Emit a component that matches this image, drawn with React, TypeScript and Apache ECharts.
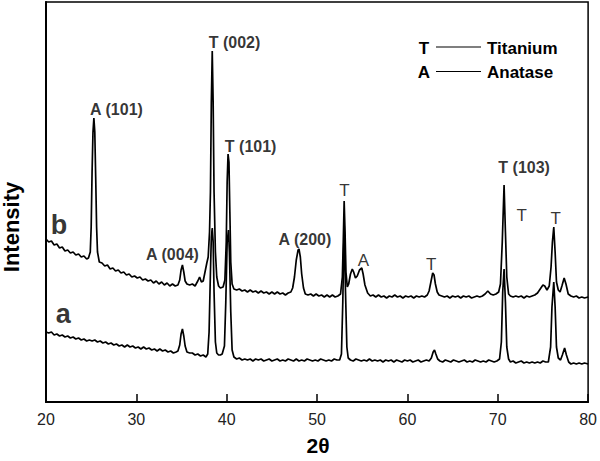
import React, { useEffect, useRef } from "react";
import * as echarts from "echarts";

// Curve b (upper pattern): [2θ, intensity]
const curveB: [number, number][] = [
  [20.0, 163], [20.3, 160], [20.6, 161], [20.9, 157], [21.2, 158], [21.5, 154], [21.8, 155],
  [22.1, 151], [22.4, 152], [22.7, 149], [23.0, 150], [23.3, 147], [23.6, 148], [23.9, 145],
  [24.2, 146], [24.5, 143], [24.7, 144], [24.9, 150], [25.0, 175], [25.1, 230], [25.2, 270],
  [25.3, 284], [25.4, 270], [25.5, 225], [25.6, 175], [25.7, 150], [25.9, 140], [26.2, 139],
  [26.5, 136], [26.8, 137], [27.1, 133], [27.4, 134], [27.7, 131], [28.0, 132], [28.3, 129],
  [28.6, 130], [28.9, 127], [29.2, 128], [29.5, 125], [29.8, 126], [30.1, 124], [30.4, 125],
  [30.7, 122], [31.0, 123], [31.3, 121], [31.6, 122], [31.9, 119], [32.2, 121], [32.5, 118],
  [32.8, 120], [33.1, 117], [33.4, 119], [33.7, 116], [34.0, 118], [34.3, 116], [34.6, 117],
  [34.8, 122], [34.95, 132], [35.1, 137], [35.25, 130], [35.4, 121], [35.6, 118], [35.9, 117],
  [36.2, 118], [36.5, 116], [36.8, 121], [37.0, 125], [37.2, 120], [37.4, 121], [37.6, 130],
  [37.8, 139], [37.95, 145], [38.1, 170], [38.2, 210], [38.3, 300], [38.4, 351], [38.5, 300],
  [38.6, 210], [38.75, 150], [38.9, 125], [39.1, 116], [39.3, 114], [39.6, 115], [39.8, 122],
  [39.95, 160], [40.05, 220], [40.15, 248], [40.25, 240], [40.35, 190], [40.45, 140], [40.6, 118],
  [40.8, 113], [41.1, 112], [41.4, 113], [41.7, 111], [42.0, 112], [42.3, 110], [42.6, 112],
  [42.9, 110], [43.2, 111], [43.5, 109], [43.8, 111], [44.1, 109], [44.4, 110], [44.7, 108],
  [45.0, 110], [45.3, 108], [45.6, 110], [45.9, 108], [46.2, 109], [46.5, 107], [46.8, 109],
  [47.1, 110], [47.3, 114], [47.5, 125], [47.7, 142], [47.9, 152], [48.0, 153], [48.15, 145],
  [48.3, 128], [48.5, 114], [48.7, 108], [49.0, 107], [49.3, 108], [49.6, 106], [49.9, 108],
  [50.2, 106], [50.5, 107], [50.8, 105], [51.1, 107], [51.4, 105], [51.7, 107], [52.0, 105],
  [52.3, 106], [52.6, 108], [52.8, 125], [52.9, 160], [53.0, 201], [53.1, 170], [53.2, 130],
  [53.35, 115], [53.5, 118], [53.7, 128], [53.9, 133], [54.05, 130], [54.25, 124], [54.45, 126],
  [54.7, 132], [54.95, 134], [55.1, 128], [55.3, 117], [55.6, 109], [55.9, 106], [56.2, 107],
  [56.5, 105], [56.8, 107], [57.1, 105], [57.4, 106], [57.7, 104], [58.0, 106], [58.3, 105],
  [58.6, 107], [58.9, 105], [59.2, 106], [59.5, 104], [59.8, 106], [60.1, 105], [60.4, 106],
  [60.7, 104], [61.0, 106], [61.3, 105], [61.6, 106], [61.9, 105], [62.2, 107], [62.4, 111],
  [62.6, 120], [62.8, 129], [62.95, 127], [63.1, 118], [63.3, 110], [63.5, 107], [63.8, 106],
  [64.1, 105], [64.4, 106], [64.7, 104], [65.0, 106], [65.3, 105], [65.6, 106], [65.9, 104],
  [66.2, 106], [66.5, 105], [66.8, 106], [67.1, 104], [67.4, 105], [67.7, 106], [68.0, 105],
  [68.3, 106], [68.6, 108], [68.9, 111], [69.2, 108], [69.5, 107], [69.8, 108], [70.1, 110],
  [70.3, 118], [70.5, 160], [70.7, 217], [70.85, 170], [71.0, 125], [71.2, 108], [71.4, 106],
  [71.7, 105], [72.0, 106], [72.3, 105], [72.6, 106], [72.9, 104], [73.2, 106], [73.5, 105],
  [73.8, 106], [74.1, 107], [74.4, 109], [74.7, 113], [75.0, 117], [75.2, 116], [75.45, 112],
  [75.7, 116], [75.9, 135], [76.05, 160], [76.2, 175], [76.35, 150], [76.5, 120], [76.7, 112],
  [76.9, 110], [77.1, 116], [77.35, 124], [77.55, 118], [77.8, 108], [78.1, 106], [78.4, 105],
  [78.7, 106], [79.0, 104], [79.3, 105], [79.6, 104], [80.0, 105],
];

// Curve a (lower pattern): [2θ, intensity]
const curveA: [number, number][] = [
  [20.0, 70], [20.3, 69], [20.6, 70], [20.9, 67], [21.2, 68], [21.5, 66], [21.8, 67], [22.1, 65],
  [22.4, 66], [22.7, 64], [23.0, 65], [23.3, 63], [23.6, 64], [23.9, 62], [24.2, 63], [24.5, 61],
  [24.8, 62], [25.1, 61], [25.4, 62], [25.7, 60], [26.0, 61], [26.3, 59], [26.6, 60], [26.9, 58],
  [27.2, 59], [27.5, 57], [27.8, 58], [28.1, 56], [28.4, 57], [28.7, 55], [29.0, 57], [29.3, 55],
  [29.6, 56], [29.9, 54], [30.2, 55], [30.5, 53], [30.8, 55], [31.1, 53], [31.4, 54], [31.7, 52],
  [32.0, 53], [32.3, 51], [32.6, 53], [32.9, 51], [33.2, 52], [33.5, 50], [33.8, 51], [34.1, 49],
  [34.4, 50], [34.6, 51], [34.8, 57], [34.95, 68], [35.1, 73], [35.25, 66], [35.4, 56], [35.6, 50],
  [35.9, 49], [36.2, 49], [36.5, 47], [36.8, 48], [37.1, 46], [37.4, 47], [37.7, 45], [37.9, 48],
  [38.05, 70], [38.2, 130], [38.3, 165], [38.4, 174], [38.5, 160], [38.6, 110], [38.75, 60],
  [38.9, 49], [39.1, 47], [39.3, 47], [39.5, 48], [39.75, 56], [39.9, 100], [40.05, 160],
  [40.2, 172], [40.3, 150], [40.45, 90], [40.6, 52], [40.8, 45], [41.1, 43], [41.4, 44], [41.7, 42],
  [42.0, 43], [42.3, 42], [42.6, 43], [42.9, 41], [43.2, 43], [43.5, 42], [43.8, 43], [44.1, 41],
  [44.4, 42], [44.7, 43], [45.0, 41], [45.3, 42], [45.6, 43], [45.9, 41], [46.2, 42], [46.5, 41],
  [46.8, 43], [47.1, 42], [47.4, 41], [47.7, 43], [48.0, 41], [48.3, 42], [48.6, 41], [48.9, 43],
  [49.2, 42], [49.5, 41], [49.8, 42], [50.1, 41], [50.4, 43], [50.7, 42], [51.0, 41], [51.3, 42],
  [51.6, 41], [51.9, 43], [52.2, 42], [52.5, 42], [52.7, 48], [52.85, 100], [53.0, 178],
  [53.15, 110], [53.3, 55], [53.45, 44], [53.7, 42], [54.0, 41], [54.3, 43], [54.6, 42], [54.9, 41],
  [55.2, 42], [55.5, 41], [55.8, 43], [56.1, 41], [56.4, 42], [56.7, 41], [57.0, 42], [57.3, 40],
  [57.6, 42], [57.9, 41], [58.2, 42], [58.5, 40], [58.8, 42], [59.1, 41], [59.4, 40], [59.7, 42],
  [60.0, 41], [60.3, 42], [60.6, 40], [60.9, 41], [61.2, 42], [61.5, 40], [61.8, 41], [62.1, 42],
  [62.4, 41], [62.65, 44], [62.85, 50], [63.0, 52], [63.15, 48], [63.35, 43], [63.6, 41], [63.9, 40],
  [64.2, 42], [64.5, 41], [64.8, 40], [65.1, 42], [65.4, 41], [65.7, 40], [66.0, 41], [66.3, 42],
  [66.6, 40], [66.9, 41], [67.2, 40], [67.5, 42], [67.8, 41], [68.1, 40], [68.4, 41], [68.7, 40],
  [69.0, 42], [69.3, 41], [69.6, 40], [69.9, 41], [70.2, 43], [70.4, 60], [70.55, 110], [70.7, 133],
  [70.85, 100], [71.0, 55], [71.2, 43], [71.4, 40], [71.7, 41], [72.0, 39], [72.3, 40], [72.6, 41],
  [72.9, 39], [73.2, 40], [73.5, 39], [73.8, 40], [74.1, 39], [74.4, 40], [74.7, 39], [75.0, 41],
  [75.3, 40], [75.6, 40], [75.85, 55], [76.0, 95], [76.2, 120], [76.35, 95], [76.5, 55], [76.7, 44],
  [76.95, 42], [77.15, 47], [77.4, 54], [77.6, 47], [77.85, 40], [78.1, 38], [78.4, 39], [78.7, 38],
  [79.0, 39], [79.3, 38], [79.6, 39], [80.0, 38],
];

// Peak annotations (text, 2θ position, intensity position, style)
const annText = ["A (101)", "T (002)", "T (101)", "A (004)", "A (200)", "T", "A", "T", "T (103)", "T", "T", "b", "a"];
const annX = [27.8, 40.86, 42.65, 34.0, 48.66, 53.03, 55.12, 62.64, 72.92, 72.66, 76.4, 21.43, 21.9];
const annY = [293, 360, 256, 148, 163, 212, 142, 138, 235, 187, 184, 177, 88];
const annKind = ["b", "b", "b", "b", "b", "r", "r", "r", "b", "r", "r", "big", "big"];

const xTicks = { min: 20, max: 80, interval: 10 };
const legendItems = ["T", "A"];
const legendNames = ["Titanium", "Anatase"];

const FONT = "'Liberation Sans', Arial, Helvetica, sans-serif";

export default function App() {
  const ref = useRef<HTMLDivElement>(null);
  useEffect(() => {
    if (!ref.current) return;
    const chart = echarts.init(ref.current, null, { renderer: "svg" });
    const annData = annText.map((t, i) => {
      const k = annKind[i];
      return {
        value: [annX[i], annY[i]],
        label: {
          show: true,
          position: "inside",
          formatter: t,
          color: "#000",
          textBorderWidth: 0,
          textBorderColor: "transparent",
          fontFamily: FONT,
          fontWeight: k === "r" ? "normal" : "bold",
          fontSize: k === "big" ? 27 : k === "b" ? 16 : 17,
        },
      };
    });
    const legendGraphics: any[] = [];
    legendItems.forEach((s, i) => {
      const y = 48 + i * 24.5;
      legendGraphics.push({
        type: "text", x: 424, y, style: { text: s, font: `bold 17px ${FONT}`, fill: "#000", align: "center", verticalAlign: "middle" },
      });
      legendGraphics.push({
        type: "line", shape: { x1: 436, y1: y - 1, x2: 481, y2: y - 1 }, style: { stroke: "#000", lineWidth: 1.2 },
      });
      legendGraphics.push({
        type: "text", x: 487, y, style: { text: legendNames[i], font: `bold 17px ${FONT}`, fill: "#000", align: "left", verticalAlign: "middle" },
      });
    });
    chart.setOption({
      animation: false,
      backgroundColor: "#fff",
      grid: { left: 46, right: 9, top: 2, bottom: 59, show: true, borderColor: "#000", borderWidth: 1.5, backgroundColor: "transparent" },
      xAxis: {
        type: "value",
        min: xTicks.min,
        max: xTicks.max,
        interval: xTicks.interval,
        axisLine: { show: true, lineStyle: { color: "#000", width: 2 } },
        axisTick: { show: true, inside: true, length: 8, lineStyle: { color: "#000", width: 1.5 } },
        axisLabel: { fontSize: 16, color: "#222", fontFamily: FONT, margin: 9 },
        splitLine: { show: false },
      },
      yAxis: {
        type: "value",
        min: 0,
        max: 400,
        axisLine: { show: true, lineStyle: { color: "#000", width: 2 } },
        axisTick: { show: false },
        axisLabel: { show: false },
        splitLine: { show: false },
      },
      graphic: [
        {
          type: "text", x: 11, y: 227, rotation: Math.PI / 2,
          style: { text: "Intensity", font: `bold 22px ${FONT}`, fill: "#000", align: "center", verticalAlign: "middle" },
        },
        {
          type: "text", x: 318, y: 445,
          style: { text: "2θ", font: `bold 21px ${FONT}`, fill: "#000", align: "center", verticalAlign: "middle" },
        },
        ...legendGraphics,
      ],
      series: [
        { type: "line", data: curveB, showSymbol: false, symbol: "none", lineStyle: { color: "#000", width: 1.7 }, z: 3 },
        { type: "line", data: curveA, showSymbol: false, symbol: "none", lineStyle: { color: "#000", width: 1.7 }, z: 3 },
        { type: "scatter", data: annData, symbolSize: 0, silent: true, itemStyle: { color: "#000" }, z: 5 },
      ],
    });
    return () => chart.dispose();
  }, []);
  return <div ref={ref} style={{ position: "fixed", left: 0, top: 0, width: 600, height: 461, background: "#fff" }} />;
}
